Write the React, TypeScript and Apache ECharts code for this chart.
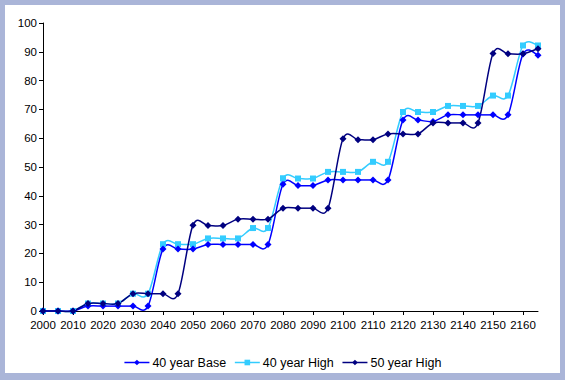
import React, { useEffect, useRef } from "react";
import * as echarts from "echarts";

const years: string[] = [];
for (let y = 2000; y <= 2165; y += 5) years.push(String(y));

const base40 = [0, 0, 0, 1.7, 1.7, 1.7, 1.7, 1.7, 21.5, 21.5, 21.5, 23.1, 23.1, 23.1, 23.1, 23.1, 44.0, 43.6, 43.6, 45.5, 45.5, 45.5, 45.5, 45.5, 66.3, 66.3, 65.8, 68.1, 68.1, 68.1, 68.1, 68.1, 89.2, 88.8];
const high40 = [0, 0, 0, 2.6, 2.6, 2.6, 6.0, 6.0, 23.2, 23.2, 23.2, 25.2, 25.2, 25.2, 28.8, 28.8, 46.1, 46.0, 46.0, 48.3, 48.3, 48.3, 51.8, 51.8, 69.1, 69.1, 69.1, 71.2, 71.2, 71.2, 74.8, 74.8, 92.2, 92.2];
const high50 = [0, 0, 0, 2.6, 2.6, 2.6, 6.0, 6.0, 6.0, 6.0, 29.8, 29.7, 29.7, 31.9, 31.9, 31.9, 35.7, 35.7, 35.7, 35.7, 59.8, 59.5, 59.5, 61.5, 61.5, 61.5, 65.3, 65.3, 65.3, 65.3, 89.4, 89.3, 89.3, 91.1];

const seriesNames = ["40 year Base", "40 year High", "50 year High"];
const colors = ["#0000ff", "#33ccff", "#000080"];
const symbols = ["diamond", "rect", "diamond"];

export default function App() {
  const ref = useRef<HTMLDivElement>(null);
  useEffect(() => {
    if (!ref.current) return;
    const chart = echarts.init(ref.current, null, { renderer: "svg" });
    const font = "'Liberation Sans', Arial, sans-serif";
    const datas = [base40, high40, high50];
    const zOrder = [3, 2, 4];

    // Excel-like smoothed line (uniform Catmull-Rom) drawn through the axis scales
    const curveSeries = datas.map((d, si) => ({
      type: "custom",
      name: seriesNames[si] + " curve",
      data: d.map((v, i) => [i, v]),
      z: zOrder[si],
      silent: true,
      renderItem: (params: any, api: any) => {
        const i = api.value(0) as number;
        if (i >= d.length - 1) return null;
        const ip = Math.max(i - 1, 0);
        const in2 = Math.min(i + 2, d.length - 1);
        const p0 = api.coord([ip, d[ip]]);
        const p1 = api.coord([i, d[i]]);
        const p2 = api.coord([i + 1, d[i + 1]]);
        const p3 = api.coord([in2, d[in2]]);
        const t = 1 / 6;
        return {
          type: "bezierCurve",
          shape: {
            x1: p1[0],
            y1: p1[1],
            x2: p2[0],
            y2: p2[1],
            cpx1: p1[0] + (p2[0] - p0[0]) * t,
            cpy1: p1[1] + (p2[1] - p0[1]) * t,
            cpx2: p2[0] - (p3[0] - p1[0]) * t,
            cpy2: p2[1] - (p3[1] - p1[1]) * t,
          },
          style: { stroke: colors[si], lineWidth: 1.5, fill: null },
        };
      },
    }));

    const markerSeries = datas.map((d, i) => ({
      name: seriesNames[i],
      type: "line",
      data: d,
      symbol: symbols[i],
      symbolSize: i === 1 ? 6 : 7,
      showSymbol: true,
      lineStyle: { color: colors[i], width: 1.5, opacity: 0 },
      itemStyle: { color: colors[i] },
      z: zOrder[i] + 5,
    }));

    chart.setOption({
      animation: false,
      backgroundColor: "#ffffff",
      textStyle: { fontFamily: font },
      graphic: [
        { type: "rect", left: 0, top: 0, shape: { width: 565, height: 5 }, style: { fill: "#aab5d8" } },
        { type: "rect", left: 0, top: 0, shape: { width: 5, height: 380 }, style: { fill: "#aab5d8" } },
        { type: "rect", left: 560, top: 0, shape: { width: 5, height: 380 }, style: { fill: "#aab5d8" } },
        { type: "rect", left: 0, top: 373, shape: { width: 565, height: 7 }, style: { fill: "#aab5d8" } },
      ],
      legend: {
        bottom: 6,
        left: "center",
        itemWidth: 25,
        itemHeight: 7,
        itemGap: 8,
        textStyle: { fontFamily: font, fontSize: 12.5, color: "#000", padding: [0, 0, 0, -2] },
        data: seriesNames.map((n, i) => ({
          name: n,
          lineStyle: { color: colors[i], width: 1.5, opacity: 1 },
        })),
      },
      grid: { left: 43, right: 27, top: 23, bottom: 69, containLabel: false },
      xAxis: {
        type: "category",
        data: years,
        boundaryGap: false,
        axisLine: { lineStyle: { color: "#000", width: 1 } },
        axisTick: { interval: 1, length: 4, lineStyle: { color: "#000" } },
        axisLabel: { interval: 1, color: "#000", fontSize: 11.5, fontFamily: font, margin: 8 },
        splitLine: { show: false },
      },
      yAxis: {
        type: "value",
        min: 0,
        max: 100,
        interval: 10,
        axisLine: { show: true, lineStyle: { color: "#000", width: 1 } },
        axisTick: { show: true, length: 4, lineStyle: { color: "#000" } },
        axisLabel: { color: "#000", fontSize: 11.5, fontFamily: font, margin: 6 },
        splitLine: { show: false },
      },
      series: [...curveSeries, ...markerSeries],
    });
    return () => chart.dispose();
  }, []);
  return (
    <div
      ref={ref}
      style={{ position: "fixed", left: 0, top: 0, width: 565, height: 380 }}
    />
  );
}
